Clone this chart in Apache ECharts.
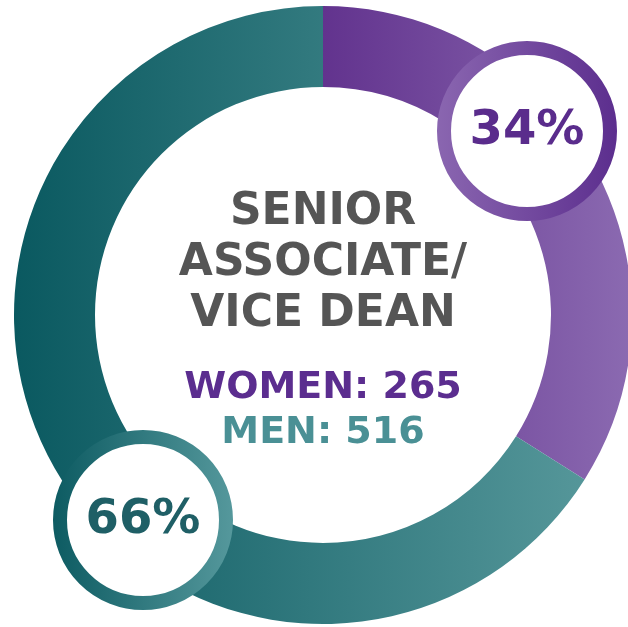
<!DOCTYPE html>
<html>
<head>
<meta charset="utf-8">
<script src="https://cdn.jsdelivr.net/npm/echarts@6/dist/echarts.min.js"></script>
<style>
  html, body { margin: 0; padding: 0; background: #fff; }
  #main { width: 628px; height: 627px; }
</style>
</head>
<body>
<div id="main"></div>
<script>
var titleLines = ['SENIOR', 'ASSOCIATE/', 'VICE DEAN'];
var groups = ['WOMEN', 'MEN'];
var counts = [265, 516];

var total = counts[0] + counts[1];
var pct = counts.map(function (c) { return Math.round(c / total * 100) + '%'; });

var chart = echarts.init(document.getElementById('main'));

var font = '"DejaVu Sans", sans-serif';

// horizontal gradients across the whole ring
function ringGrad(x1, x2, c1, c2) {
        return {
                type: 'linear', x: x1, y: 0, x2: x2, y2: 0, global: true,
                colorStops: [{ offset: 0, color: c1 }, { offset: 1, color: c2 }]
        };
}
function boxGrad(c1, c2) {
        return new echarts.graphic.LinearGradient(0, 0, 1, 0, [
                { offset: 0, color: c1 }, { offset: 1, color: c2 }
        ]);
}

var sliceColors = [
        ringGrad(323, 632, '#62338e', '#8b6ab1'),
        ringGrad(14, 600, '#0a5960', '#57989b')
];

function badge(cx, cy, text, c1, c2, textColor) {
        return {
                type: 'group',
                z: 100,
                children: [
                        {
                                type: 'circle',
                                z: 100,
                                shape: { cx: cx, cy: cy, r: 83 },
                                style: { fill: '#fff', stroke: boxGrad(c1, c2), lineWidth: 14 }
                        },
                        {
                                type: 'text',
                                z: 101,
                                x: cx, y: cy + 1,
                                style: {
                                        text: text, fill: textColor, font: 'bold 48px ' + font,
                                        textAlign: 'center', textVerticalAlign: 'middle'
                                }
                        }
                ]
        };
}

var centerTexts = titleLines.map(function (t, i) {
        return {
                type: 'text', x: 323, y: 213 + i * 51,
                style: {
                        text: t, fill: '#555555', font: 'bold 44px ' + font,
                        textAlign: 'center', textVerticalAlign: 'middle'
                }
        };
});
centerTexts.push({
        type: 'text', x: 323, y: 388,
        style: {
                text: groups[0] + ': ' + counts[0], fill: '#5b2d8f', font: 'bold 38px ' + font,
                textAlign: 'center', textVerticalAlign: 'middle'
        }
});
centerTexts.push({
        type: 'text', x: 323, y: 433,
        style: {
                text: groups[1] + ': ' + counts[1], fill: '#4a9095', font: 'bold 38px ' + font,
                textAlign: 'center', textVerticalAlign: 'middle'
        }
});

chart.setOption({
        animation: false,
        series: [{
                type: 'pie',
                center: [323, 315],
                radius: [228, 309],
                startAngle: 90,
                clockwise: true,
                silent: true,
                z: 1,
                label: { show: false },
                labelLine: { show: false },
                itemStyle: { borderWidth: 0 },
                data: groups.map(function (g, i) {
                        return { name: g, value: counts[i], itemStyle: { color: sliceColors[i] } };
                })
        }],
        graphic: centerTexts.concat([
                badge(527, 131, pct[0], '#8a66b0', '#5c2e8e', '#5a2c8c'),
                badge(143, 520, pct[1], '#0d5b62', '#55989c', '#1f5f66')
        ])
});
</script>
</body>
</html>
